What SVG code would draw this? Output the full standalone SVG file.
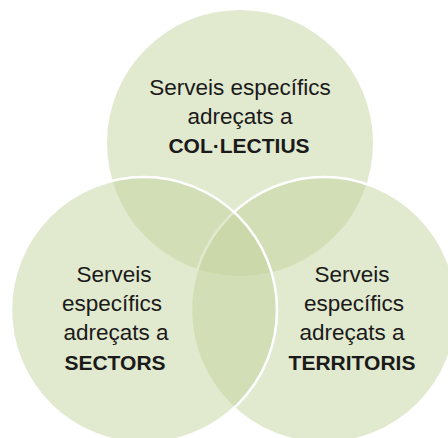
<svg xmlns="http://www.w3.org/2000/svg" width="448" height="438" viewBox="0 0 448 438">
<style>
.c{fill:#C3D39D;fill-opacity:0.5;stroke:#FFFFFF;stroke-width:2.5}
.top{stroke:none}
.t{font-family:"Liberation Sans",Arial,sans-serif;font-size:22.5px;fill:#1a1a1a;text-anchor:middle}
.b{font-weight:bold;font-size:21px}
</style>
<rect x="0" y="0" width="448" height="438" fill="#FFFFFF"/>
<g id="colectius">
<circle class="c top" cx="240" cy="143" r="133"/>
</g>
<g id="territoris">
<circle class="c" cx="324" cy="310" r="133"/>
</g>
<g id="sectors">
<circle class="c" cx="144" cy="310" r="133"/>
</g>
<g id="labels">
<g id="label-colectius">
<text class="t" x="240" y="95">Serveis específics</text>
<text class="t" x="240" y="124">adreçats a</text>
<text class="t b" x="239" y="153">COL·LECTIUS</text>
</g>
<g id="label-sectors">
<text class="t" x="114" y="282">Serveis</text>
<text class="t" x="112" y="311">específics</text>
<text class="t" x="116" y="340">adreçats a</text>
<text class="t b" x="115" y="370">SECTORS</text>
</g>
<g id="label-territoris">
<text class="t" x="352" y="282">Serveis</text>
<text class="t" x="354" y="311">específics</text>
<text class="t" x="352" y="340">adreçats a</text>
<text class="t b" x="352" y="370">TERRITORIS</text>
</g>
</g>
</svg>
